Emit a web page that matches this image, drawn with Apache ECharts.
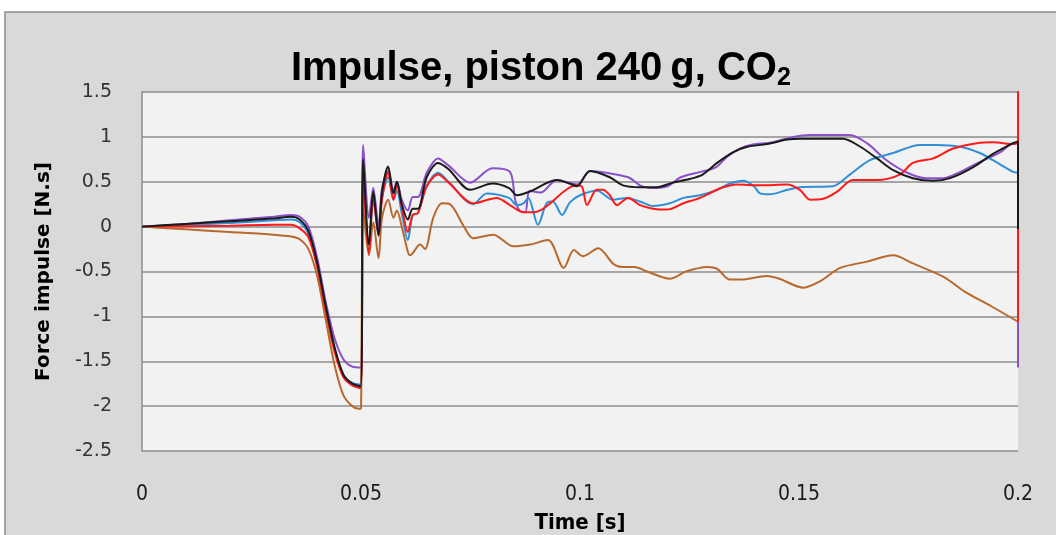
<!DOCTYPE html>
<html>
<head>
<meta charset="utf-8">
<script src="https://cdn.jsdelivr.net/npm/echarts@6/dist/echarts.min.js"></script>
<style>
  html, body { margin: 0; padding: 0; background: #fff; }
  #chart { width: 1056px; height: 535px; }
</style>
</head>
<body>
<div id="chart"></div>
<script>
// time [s], force impulse [N.s]
var purple = [
  [0, 0], [0.01, 0.03], [0.02, 0.07], [0.03, 0.11], [0.034, 0.13], [0.036, 0.11], [0.038, 0.0],
  [0.040, -0.35], [0.042, -0.85], [0.044, -1.25], [0.046, -1.48], [0.048, -1.56], [0.0499, -1.57],
  [0.0505, 0.91], [0.0518, 0.1], [0.0528, 0.43], [0.054, 0.0], [0.0548, 0.43], [0.0562, 0.62],
  [0.0574, 0.4], [0.0582, 0.5], [0.0593, 0.3], [0.0607, 0.18], [0.0618, 0.33], [0.063, 0.33],
  [0.065, 0.6], [0.0676, 0.76], [0.070, 0.68], [0.0749, 0.49], [0.080, 0.65], [0.084, 0.61],
  [0.0852, 0.3], [0.0862, 0.18], [0.0875, 0.16], [0.0885, 0.4], [0.091, 0.38], [0.0947, 0.52],
  [0.0993, 0.47], [0.1023, 0.62], [0.106, 0.6], [0.111, 0.55], [0.1137, 0.46], [0.116, 0.43],
  [0.12, 0.45], [0.123, 0.55], [0.1275, 0.61], [0.131, 0.66], [0.1336, 0.78], [0.1365, 0.87],
  [0.139, 0.91], [0.144, 0.94], [0.1487, 1.0], [0.1525, 1.02], [0.1616, 1.02], [0.1655, 0.93],
  [0.170, 0.74], [0.1747, 0.6], [0.179, 0.54], [0.1829, 0.54], [0.1868, 0.61], [0.1913, 0.72],
  [0.196, 0.83], [0.1989, 0.93], [0.2, 0.92], [0.2, -1.57]
];
var black = [
  [0, 0], [0.01, 0.03], [0.02, 0.06], [0.03, 0.09], [0.034, 0.11], [0.036, 0.08], [0.038, -0.05],
  [0.040, -0.4], [0.042, -0.9], [0.044, -1.35], [0.046, -1.65], [0.048, -1.75], [0.0499, -1.78],
  [0.0505, 0.75], [0.0518, -0.2], [0.0528, 0.39], [0.054, -0.1], [0.0548, 0.38], [0.0562, 0.67],
  [0.0574, 0.37], [0.0582, 0.5], [0.0593, 0.25], [0.0607, 0.08], [0.0618, 0.2], [0.063, 0.2],
  [0.065, 0.55], [0.0676, 0.71], [0.070, 0.64], [0.0749, 0.41], [0.080, 0.48], [0.0838, 0.43],
  [0.0856, 0.35], [0.0885, 0.39], [0.0947, 0.52], [0.0976, 0.48], [0.0993, 0.45], [0.1023, 0.62],
  [0.1068, 0.55], [0.1098, 0.46], [0.1137, 0.44], [0.1176, 0.44], [0.1212, 0.49], [0.125, 0.53],
  [0.128, 0.58], [0.1313, 0.71], [0.135, 0.83], [0.1382, 0.89], [0.1427, 0.92], [0.1473, 0.97],
  [0.1502, 0.98], [0.16, 0.98], [0.164, 0.89], [0.1678, 0.76], [0.1715, 0.63], [0.176, 0.54],
  [0.1806, 0.51], [0.1845, 0.54], [0.1897, 0.66], [0.1943, 0.81], [0.1989, 0.93], [0.2, 0.95],
  [0.2, -0.03]
];
var blue = [
  [0, 0], [0.01, 0.02], [0.02, 0.04], [0.03, 0.07], [0.034, 0.08], [0.036, 0.05], [0.038, -0.08],
  [0.040, -0.42], [0.042, -0.92], [0.044, -1.38], [0.046, -1.66], [0.048, -1.74], [0.0499, -1.76],
  [0.0505, 0.55], [0.0518, -0.2], [0.0528, 0.3], [0.054, -0.1], [0.0548, 0.33], [0.0562, 0.55],
  [0.0574, 0.3], [0.0582, 0.4], [0.0593, 0.15], [0.0607, -0.15], [0.0618, 0.13], [0.063, 0.15],
  [0.065, 0.45], [0.0676, 0.6], [0.070, 0.5], [0.0756, 0.25], [0.0787, 0.37], [0.0838, 0.32],
  [0.0856, 0.24], [0.0871, 0.26], [0.0882, 0.32], [0.0904, 0.02], [0.0925, 0.27], [0.0938, 0.28],
  [0.0959, 0.13], [0.0977, 0.27], [0.1, 0.35], [0.1039, 0.4], [0.1075, 0.3], [0.1107, 0.32],
  [0.1137, 0.28], [0.1167, 0.23], [0.1205, 0.26], [0.1236, 0.32], [0.1274, 0.35], [0.1313, 0.41],
  [0.1342, 0.48], [0.1373, 0.51], [0.1397, 0.45], [0.1411, 0.37], [0.1434, 0.36], [0.1473, 0.41],
  [0.1502, 0.44], [0.1577, 0.45], [0.1616, 0.58], [0.1662, 0.74], [0.1715, 0.82], [0.1776, 0.91],
  [0.1815, 0.91], [0.1868, 0.89], [0.1913, 0.82], [0.1943, 0.74], [0.1989, 0.61], [0.2, 0.6]
];
var red = [
  [0, 0], [0.01, 0.005], [0.02, 0.01], [0.03, 0.02], [0.034, 0.02], [0.036, -0.02], [0.038, -0.12],
  [0.040, -0.45], [0.042, -0.95], [0.044, -1.4], [0.046, -1.68], [0.048, -1.77], [0.0499, -1.8],
  [0.0505, 0.55], [0.0518, -0.3], [0.0528, 0.33], [0.054, -0.08], [0.0548, 0.3], [0.0562, 0.6],
  [0.0574, 0.3], [0.0582, 0.46], [0.0593, 0.22], [0.0607, -0.06], [0.0618, 0.13], [0.063, 0.15],
  [0.065, 0.45], [0.0676, 0.58], [0.070, 0.49], [0.0756, 0.26], [0.081, 0.32], [0.084, 0.24],
  [0.087, 0.16], [0.0894, 0.16], [0.0993, 0.46], [0.1005, 0.44], [0.1016, 0.24], [0.1038, 0.41],
  [0.1052, 0.41], [0.1068, 0.35], [0.1084, 0.24], [0.111, 0.32], [0.1137, 0.24], [0.1167, 0.2],
  [0.1199, 0.19], [0.1236, 0.26], [0.1274, 0.32], [0.1322, 0.43], [0.1358, 0.47], [0.1411, 0.46],
  [0.1473, 0.47], [0.1502, 0.41], [0.1525, 0.3], [0.1555, 0.31], [0.1587, 0.39], [0.1623, 0.52],
  [0.1678, 0.52], [0.173, 0.58], [0.176, 0.71], [0.1806, 0.76], [0.1852, 0.87], [0.1906, 0.93],
  [0.1943, 0.94], [0.1989, 0.92], [0.2, 0.95], [0.2, 1.52], [0.2, -1.06]
];
var brown = [
  [0, 0], [0.01, -0.03], [0.02, -0.06], [0.03, -0.09], [0.034, -0.11], [0.036, -0.14], [0.038, -0.25],
  [0.040, -0.55], [0.042, -1.05], [0.044, -1.55], [0.046, -1.88], [0.048, -2.0], [0.0495, -2.03],
  [0.05, -2.02], [0.0505, 0.2], [0.0518, -0.32], [0.0528, 0.05], [0.054, -0.35], [0.0548, 0.1],
  [0.0562, 0.3], [0.0574, 0.1], [0.0582, 0.18], [0.0593, 0.0], [0.0607, -0.28], [0.0612, -0.32],
  [0.0635, -0.2], [0.0646, -0.25], [0.0665, 0.1], [0.0685, 0.26], [0.0703, 0.25], [0.0735, 0.0],
  [0.0756, -0.13], [0.0802, -0.09], [0.0848, -0.22], [0.0886, -0.2], [0.0927, -0.15], [0.0963, -0.46],
  [0.0986, -0.26], [0.1007, -0.33], [0.1042, -0.24], [0.1075, -0.41], [0.1096, -0.45], [0.1125, -0.45],
  [0.1153, -0.5], [0.1205, -0.58], [0.1242, -0.5], [0.129, -0.45], [0.1313, -0.47], [0.1342, -0.59],
  [0.137, -0.59], [0.1426, -0.55], [0.1455, -0.58], [0.151, -0.68], [0.1548, -0.61], [0.1594, -0.46],
  [0.1655, -0.39], [0.1715, -0.32], [0.176, -0.41], [0.183, -0.56], [0.188, -0.73], [0.194, -0.89],
  [0.2, -1.06]
];

var chart = echarts.init(document.getElementById('chart'))

function line(data, color) {
  return {
    type: 'line',
    data: data,
    showSymbol: false,
    smooth: 0.3,
    lineStyle: { width: 2, color: color },
    itemStyle: { color: color }
  }
}

chart.setOption({
  animation: false,
  backgroundColor: '#fff',
  graphic: [{
    type: 'rect',
    z: -10,
    shape: { x: 5, y: 12, width: 1060, height: 540 },
    style: { fill: '#d9d9d9', stroke: '#8c8c8c', lineWidth: 1.5 }
  }],
  title: {
    left: 286,
    top: 42,
    text: '{a|Impulse, piston 240\u2009g, CO}{b|2}',
    textStyle: {
      rich: {
        a: { fontFamily: 'Liberation Sans', fontWeight: 'bold', fontSize: 40, lineHeight: 44, color: '#000' },
        b: { fontFamily: 'Liberation Sans', fontWeight: 'bold', fontSize: 25, lineHeight: 44, color: '#000', padding: [18, 0, 0, 0] }
      }
    }
  },
  grid: {
    left: 142,
    top: 92,
    width: 876,
    height: 359,
    outerBoundsMode: 'none',
    containLabel: false,
    show: true,
    backgroundColor: '#f2f2f2',
    borderWidth: 0
  },
  xAxis: {
    type: 'value',
    min: 0,
    max: 0.2,
    interval: 0.05,
    name: 'Time [s]',
    nameLocation: 'middle',
    nameGap: 61,
    nameTextStyle: { fontFamily: 'DejaVu Sans Condensed', fontWeight: 'bold', fontSize: 22, color: '#000' },
    axisLine: { show: false },
    axisTick: { show: false },
    splitLine: { show: false },
    axisLabel: {
      margin: 33,
      fontFamily: 'DejaVu Sans Condensed',
      fontSize: 21,
      color: '#1a1a1a',
      formatter: function (v) { return String(+v.toFixed(2)) }
    }
  },
  yAxis: {
    type: 'value',
    min: -2.5,
    max: 1.5,
    interval: 0.5,
    name: 'Force impulse [N.s]',
    nameLocation: 'middle',
    nameGap: 88,
    nameTextStyle: { fontFamily: 'DejaVu Sans', fontWeight: 'bold', fontSize: 20, color: '#000' },
    axisLine: { show: true, lineStyle: { color: '#8c8c8c', width: 1.5 } },
    axisTick: { show: false },
    splitLine: { lineStyle: { color: '#8c8c8c', width: 1.5 } },
    axisLabel: {
      margin: 30,
      fontFamily: 'DejaVu Sans',
      fontSize: 19,
      color: '#333'
    }
  },
  series: [
    line(purple, '#8a50c8'),
    line(brown, '#b8692d'),
    line(blue, '#2f8fd8'),
    line(red, '#ff1a1a'),
    line(black, '#1a1a1a')
  ]
})
</script>
</body>
</html>
